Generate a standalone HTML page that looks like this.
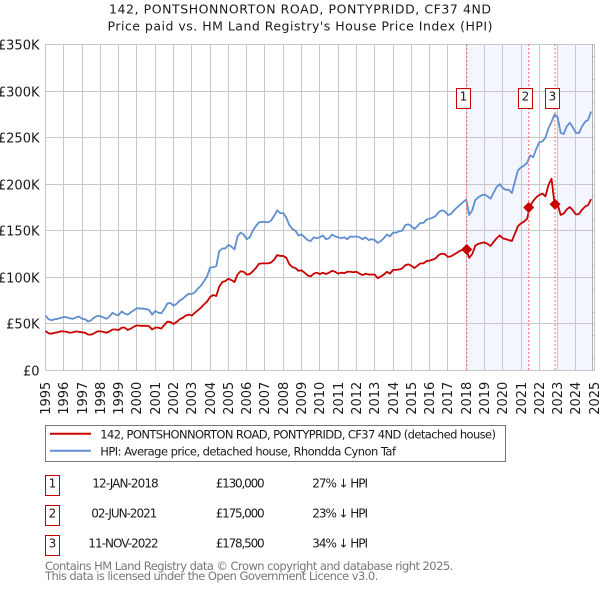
<!DOCTYPE html>
<html lang="en">
<head>
<meta charset="utf-8">
<title>142, PONTSHONNORTON ROAD price chart</title>
<style>
html,body{margin:0;padding:0;background:#fff;}
body{width:600px;height:590px;overflow:hidden;}
svg{display:block;font-family:"DejaVu Sans","Liberation Sans",sans-serif;}
text{fill:#1a1a1a;}
</style>
</head>
<body>
<svg id="chart" xmlns="http://www.w3.org/2000/svg" width="600" height="590" viewBox="0 0 600 590">
  <rect x="0" y="0" width="600" height="590" fill="#fff"/>
  <text x="109" y="13.5" font-size="12.5" textLength="382" lengthAdjust="spacing">142, PONTSHONNORTON ROAD, PONTYPRIDD, CF37 4ND</text>
  <text x="107.5" y="30.5" font-size="12.5" textLength="385" lengthAdjust="spacing">Price paid vs. HM Land Registry's House Price Index (HPI)</text>
  <g id="bands"></g>
  <g id="grid"></g>
  <g id="axes"></g>
  <g id="series"></g>
  <g id="sales"></g>

  <g>
    <rect x="45.5" y="425.5" width="460" height="36" fill="#fff" stroke="#777" stroke-width="1"/>
    <line x1="50" x2="91" y1="433.7" y2="433.7" stroke="#c80000" stroke-width="2"/>
    <text x="100.3" y="438.3" font-size="11.5" textLength="395.7" lengthAdjust="spacing">142, PONTSHONNORTON ROAD, PONTYPRIDD, CF37 4ND (detached house)</text>
    <line x1="50" x2="91" y1="450.7" y2="450.7" stroke="#5f8fd0" stroke-width="2"/>
    <text x="100.3" y="455.3" font-size="11.5" textLength="295.7" lengthAdjust="spacing">HPI: Average price, detached house, Rhondda Cynon Taf</text>
  </g>

  <g font-size="12">
    <rect x="45.5" y="475.5" width="14" height="20" fill="#fff" stroke="#c00000" stroke-width="1"/>
    <text x="52.4" y="487.3" text-anchor="middle">1</text>
    <text x="92.3" y="487.3" textLength="66.4" lengthAdjust="spacing">12-JAN-2018</text>
    <text x="215.7" y="487.3" textLength="49" lengthAdjust="spacing">£130,000</text>
    <text x="312.3" y="487.3" textLength="55.7" lengthAdjust="spacing">27% ↓ HPI</text>

    <rect x="45.5" y="505.5" width="14" height="20" fill="#fff" stroke="#c00000" stroke-width="1"/>
    <text x="52.4" y="517.3" text-anchor="middle">2</text>
    <text x="91.3" y="517.3" textLength="66" lengthAdjust="spacing">02-JUN-2021</text>
    <text x="215.7" y="517.3" textLength="49" lengthAdjust="spacing">£175,000</text>
    <text x="312.3" y="517.3" textLength="55.7" lengthAdjust="spacing">23% ↓ HPI</text>

    <rect x="45.5" y="535.5" width="14" height="20" fill="#fff" stroke="#c00000" stroke-width="1"/>
    <text x="52.4" y="547.3" text-anchor="middle">3</text>
    <text x="88.3" y="547.3" textLength="70.4" lengthAdjust="spacing">11-NOV-2022</text>
    <text x="215.7" y="547.3" textLength="49" lengthAdjust="spacing">£178,500</text>
    <text x="312.3" y="547.3" textLength="55.7" lengthAdjust="spacing">34% ↓ HPI</text>
  </g>

  <text x="45" y="570" font-size="11.5" style="fill:#777" textLength="408.3" lengthAdjust="spacing">Contains HM Land Registry data © Crown copyright and database right 2025.</text>
  <text x="45" y="580" font-size="11.5" style="fill:#777" textLength="333.3" lengthAdjust="spacing">This data is licensed under the Open Government Licence v3.0.</text>
</svg>

<script>
var startYear = 1995;
var pointsPerYear = 6;
var yearTicks = [1995,1996,1997,1998,1999,2000,2001,2002,2003,2004,2005,2006,2007,2008,2009,2010,2011,2012,2013,2014,2015,2016,2017,2018,2019,2020,2021,2022,2023,2024,2025];
var priceTicks = [0,50,100,150,200,250,300,350];
var priceTickLabels = ["£0","£50K","£100K","£150K","£200K","£250K","£300K","£350K"];
var hpiValues = [
  59,55,54,55,55.5,56.5,
  57.5,57,56,55.5,57,58,
  55.5,55,52.5,54,57,58.5,
  58.5,57,55.5,58,62,60,
  59.5,63.5,61,60,62.5,64.5,
  67,66.5,66.5,66,65,60,
  64,62,61.5,66,72,72.5,
  69.5,71.5,75,77,80,82.5,
  82,84,88,91,96,101,
  110.5,111,112,128,131,131,
  135,133,130,144,148,146,
  141,143,150,155,159,159.5,
  159.5,159,161,166,172,169,
  169,164,156,152,150,145,
  146,143,140,139,143,142,
  143,145,141,142,146,144,
  143,142,143,141,144,143.5,
  144,143,141,143,140,141,
  140,137,139,142,146,144,
  148,148,149.5,150,156,157,
  155,152,155,158.5,158.5,162,
  163,164,166,170,172,171,
  167,168,172,175,178,181,
  183.5,167,172,183,186,188,
  189,187,184.5,191,197,200,
  196,194,194,190.5,203,215,
  218,220,223,231,229,238,
  245,246,250,260,267,275,
  272,255,254,262,266,261,
  255,255,262,267,269,278
];
var priceValues = [
  42.5,40,39.5,40.5,41,42,
  42,41.5,40.5,41,42,41.5,
  41,40.5,38.5,38.5,40,42,
  42,41.5,40.5,42,44,44,
  43.5,46,46,43.5,45,47,
  48.5,48,48,48,47.5,44,
  46,46,45,49,52.5,52,
  50,52,55,56.5,59,60,
  59,62,64.5,67.5,71,74,
  79,81,80,90,95,96,
  98.5,97,95,103,106.5,106,
  103,103.5,106.5,110,114.5,115,
  115,115,116,119,124,123,
  123,121,114,111,110,107,
  107.5,105,102,101,104,105,
  103.5,105,103.5,105,107,106,
  104,105,104.5,106,106,105.5,
  106,104,102.5,104,103,103,
  103,99,101,103,106,104,
  108,108,108.5,109.5,113,114,
  112.5,110,112.5,115,115,117.5,
  118,119,120.5,124,125.5,125,
  122,122.5,124.5,126.5,128.5,130,
  130,121,125,134,136,137,
  137.5,136,133.7,138,142,145,
  142,141,140,139,147,155,
  158,160,163,177,182,186,
  188.5,190,187,199,206,178.5,
  178.5,167,168.5,173,175.5,172,
  167.5,168,172.5,176,177.5,184
];
var saleYears = [2018.03,2021.42,2022.86];
var salePrices = [130,175,178.5];
var saleNumbers = ["1","2","3"];
var bandStarts = [2018.03,2023.0];
var bandEnds = [2021.42,2024.92];

var NS = 'http://www.w3.org/2000/svg';
function xScale(year){ return 45.5 + (year - 1995) * 18.29; }
function yScale(value){ return 370.5 - value * 0.9314; }
function snap(v){ return Math.floor(v) + 0.5; }
function make(tag, parent){
  var el = document.createElementNS(NS, tag);
  parent.appendChild(el);
  return el;
}
function setAll(el, attrs){
  for (var k in attrs){ el.setAttribute(k, attrs[k]); }
}
var bandsG = document.getElementById('bands');
var gridG = document.getElementById('grid');
var axesG = document.getElementById('axes');
var seriesG = document.getElementById('series');
var salesG = document.getElementById('sales');

bandStarts.forEach(function(s, i){
  var r = make('rect', bandsG);
  
  
  setAll(r, {x: xScale(s), y: 44.5, width: xScale(bandEnds[i]) - xScale(s), height: 326, fill: '#f3f6fe'});
});

yearTicks.forEach(function(yr){
  var px = snap(xScale(yr));
  var l = make('line', gridG);
  
  
  setAll(l, {x1: px, x2: px, y1: 44, y2: 371, stroke: '#c8c8c8', 'stroke-width': 1});
  var t = make('text', axesG);
  
  
  setAll(t, {'text-anchor': 'end', 'font-size': 13, transform: 'translate(' + (px + 4.5) + ',381.7) rotate(-90)'});
  t.textContent = String(yr);
});

priceTicks.forEach(function(v, i){
  var py = snap(yScale(v));
  var l = make('line', gridG);
  
  
  setAll(l, {x1: 45, x2: 595, y1: py, y2: py, stroke: '#c8c8c8', 'stroke-width': 1});
  var t = make('text', axesG);
  
  
  setAll(t, {x: 39.5, y: py + 4.8, 'text-anchor': 'end', 'font-size': 13});
  t.textContent = priceTickLabels[i];
});

for (var minor = 12.5; minor < 350; minor += 25){
  var mt = make('line', gridG);
  
  
  setAll(mt, {x1: 593, x2: 595, y1: snap(yScale(minor)), y2: snap(yScale(minor)), stroke: '#c8c8c8', 'stroke-width': 1});
}
var rightEdge = make('line', gridG);


setAll(rightEdge, {x1: 592.5, x2: 592.5, y1: 44, y2: 371, stroke: '#adadad', 'stroke-width': 1});

function pathFor(values){
  return values.map(function(v, i){
    var year = startYear + i / pointsPerYear;
    return (i ? 'L' : 'M') + xScale(year).toFixed(2) + ' ' + yScale(v).toFixed(2);
  }).join(' ');
}

saleYears.forEach(function(yr){
  var d = make('line', salesG);
  
  
  setAll(d, {x1: xScale(yr), x2: xScale(yr), y1: 44, y2: 370, stroke: '#ff6a6a', 'stroke-width': 1, 'stroke-dasharray': '2 2'});
});

var hpiLine = make('path', seriesG);


setAll(hpiLine, {d: pathFor(hpiValues), fill: 'none', stroke: '#5f8fd0', 'stroke-width': 1.8, 'stroke-linejoin': 'round'});

var priceLine = make('path', seriesG);


setAll(priceLine, {d: pathFor(priceValues), fill: 'none', stroke: '#c80000', 'stroke-width': 1.8, 'stroke-linejoin': 'round'});

saleYears.forEach(function(yr, i){
  var cx = xScale(yr), cy = yScale(salePrices[i]);
  var m = make('path', salesG);
  
  
  setAll(m, {d: 'M' + cx + ' ' + (cy - 4.5) + ' L' + (cx + 4.5) + ' ' + cy + ' L' + cx + ' ' + (cy + 4.5) + ' L' + (cx - 4.5) + ' ' + cy + ' Z', fill: '#c80000', stroke: '#c80000', 'stroke-width': 1.5, 'stroke-linejoin': 'round'});
  var b = make('rect', salesG);
  
  
  setAll(b, {x: Math.floor(cx - 10) + 0.5, y: 88.5, width: 14, height: 20, fill: '#fff', stroke: '#c80000', 'stroke-width': 1});
  var t = make('text', salesG);
  
  
  setAll(t, {x: Math.floor(cx - 10) + 7.5, y: 100.3, 'text-anchor': 'middle', 'font-size': 12});
  t.textContent = saleNumbers[i];
});
</script>
</body>
</html>
